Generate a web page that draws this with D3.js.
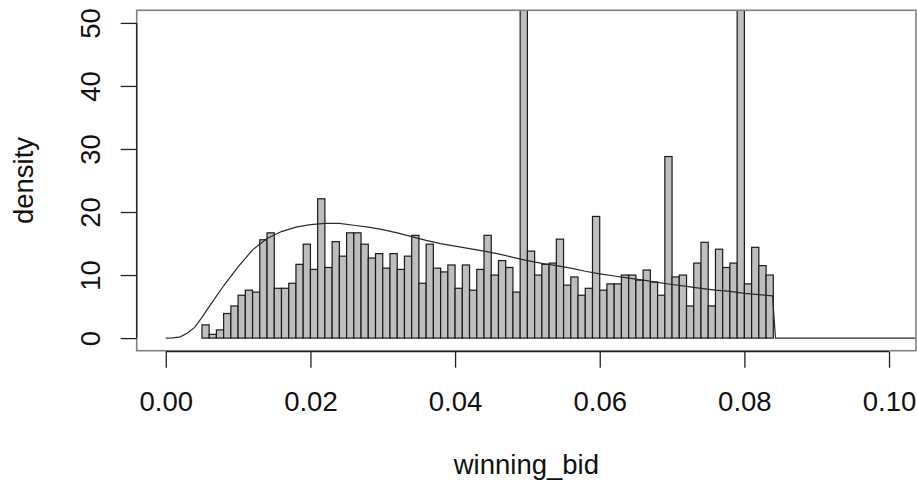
<!DOCTYPE html>
<html>
<head>
<meta charset="utf-8">
<script src="https://cdn.jsdelivr.net/npm/d3@7"></script>
<style>
  body { margin: 0; background: #fff; }
  text { font-family: "Liberation Sans", Arial, Helvetica, sans-serif; }
</style>
</head>
<body>
<div id="chart"></div>
<script>
// Histogram break points (bin edges)
var breaks = [0.005, 0.006, 0.007, 0.008, 0.009, 0.010, 0.011, 0.012, 0.013, 0.014,
  0.015, 0.016, 0.017, 0.018, 0.019, 0.020, 0.021, 0.022, 0.023, 0.024,
  0.025, 0.026, 0.027, 0.028, 0.029, 0.030, 0.031, 0.032, 0.033, 0.034,
  0.035, 0.036, 0.037, 0.038, 0.039, 0.040, 0.041, 0.042, 0.043, 0.044,
  0.045, 0.046, 0.047, 0.048, 0.049, 0.050, 0.051, 0.052, 0.053, 0.054,
  0.055, 0.056, 0.057, 0.058, 0.059, 0.060, 0.061, 0.062, 0.063, 0.064,
  0.065, 0.066, 0.067, 0.068, 0.069, 0.070, 0.071, 0.072, 0.073, 0.074,
  0.075, 0.076, 0.077, 0.078, 0.079, 0.080, 0.081, 0.082, 0.083, 0.084];

// Bar densities, one per bin
var barDensity = [2.1, 0.6, 1.3, 3.9, 5.1, 6.8, 7.6, 7.3, 15.6, 16.7,
  7.9, 7.9, 8.7, 11.7, 14.9, 10.9, 22.1, 11.2, 15.3, 13.0,
  16.7, 16.7, 14.9, 12.7, 13.4, 11.1, 13.4, 10.9, 13.0, 16.3,
  8.7, 14.9, 11.1, 10.5, 11.6, 7.9, 11.6, 7.6, 10.9, 16.3,
  10.0, 12.3, 11.2, 7.3, 80, 13.8, 10.0, 11.7, 11.9, 15.7,
  8.4, 9.7, 6.8, 7.9, 19.3, 7.6, 8.6, 8.6, 10.0, 10.0,
  9.2, 10.8, 8.9, 6.8, 28.8, 9.7, 10.0, 5.1, 11.9, 15.2,
  5.1, 14.1, 11.2, 11.9, 80, 8.6, 14.4, 11.5, 10.0];

// Fitted density curve
var curveX = [0, 0.001, 0.002, 0.003, 0.004, 0.005, 0.006, 0.008, 0.010, 0.012,
  0.014, 0.016, 0.018, 0.020, 0.022, 0.024, 0.026, 0.028, 0.030, 0.032,
  0.034, 0.036, 0.038, 0.040, 0.042, 0.044, 0.046, 0.048, 0.050, 0.052,
  0.054, 0.056, 0.058, 0.060, 0.062, 0.064, 0.066, 0.068, 0.070, 0.072,
  0.074, 0.076, 0.078, 0.080, 0.082, 0.0839, 0.0843, 0.095, 0.11];
var curveY = [0, 0.03, 0.2, 0.8, 1.7, 3.3, 5.0, 8.3, 11.3, 14.0,
  15.8, 16.9, 17.6, 18.0, 18.2, 18.2, 17.9, 17.6, 17.2, 16.7,
  16.1, 15.5, 15.0, 14.6, 14.2, 13.8, 13.35, 12.8, 12.3, 11.85,
  11.5, 11.1, 10.6, 10.2, 9.85, 9.5, 9.2, 8.85, 8.5, 8.2,
  7.9, 7.6, 7.4, 7.1, 6.9, 6.7, 0, 0, 0];

var xTicks = [0, 0.02, 0.04, 0.06, 0.08, 0.10];
var yTicks = [0, 10, 20, 30, 40, 50];

var svgWidth = 917;
var svgHeight = 485;
var plot = { left: 136.7, right: 916, top: 10.3, bottom: 350.7 };
var fontSize = 27.5;

var svg = d3.select("#chart")
  .append("svg")
  .attr("width", svgWidth)
  .attr("height", svgHeight);

var xScale = d3.scaleLinear()
  .domain([-0.00402, 0.10373])
  .range([plot.left, plot.right]);
var yScale = d3.scaleLinear()
  .domain([-2, 52])
  .range([plot.bottom, plot.top]);

svg.append("clipPath").attr("id", "clip")
  .append("rect")
  .attr("x", plot.left).attr("y", plot.top)
  .attr("width", plot.right - plot.left)
  .attr("height", plot.bottom - plot.top);

var inner = svg.append("g").attr("clip-path", "url(#clip)");

// bars
var bins = barDensity.map(function(d, i) {
  return { x0: breaks[i], x1: breaks[i + 1], y: d };
});
inner.selectAll("rect.bar")
  .data(bins)
  .enter()
  .append("rect")
  .attr("class", "bar")
  .attr("x", d => xScale(d.x0))
  .attr("width", d => xScale(d.x1) - xScale(d.x0))
  .attr("y", d => yScale(d.y))
  .attr("height", d => yScale(0) - yScale(d.y))
  .attr("fill", "#bebebe")
  .attr("stroke", "#1a1a1a")
  .attr("stroke-width", 1.2);

// density curve
var line = d3.line()
  .x((d, i) => xScale(curveX[i]))
  .y(d => yScale(d));
inner.append("path")
  .datum(curveY)
  .attr("d", line)
  .attr("fill", "none")
  .attr("stroke", "#2a2a2a")
  .attr("stroke-width", 1.2);

// box
svg.append("rect")
  .attr("x", plot.left).attr("y", plot.top)
  .attr("width", plot.right - plot.left)
  .attr("height", plot.bottom - plot.top)
  .attr("fill", "none")
  .attr("stroke", "#808080")
  .attr("stroke-width", 1.6);

// x axis
var xAxis = svg.append("g")
  .attr("transform", `translate(0, ${plot.bottom + 1})`)
  .call(d3.axisBottom(xScale).tickValues(xTicks).tickFormat(d3.format(".2f")).tickSize(16).tickSizeOuter(0));
xAxis.select(".domain").remove();
xAxis.append("line")
  .attr("x1", xScale(xTicks[0])).attr("x2", xScale(xTicks[xTicks.length - 1]))
  .attr("stroke", "#222").attr("stroke-width", 1.3);
xAxis.selectAll(".tick line").attr("stroke", "#222").attr("stroke-width", 1.3);
xAxis.selectAll("text")
  .attr("y", 59).attr("dy", 0)
  .attr("fill", "#111")
  .style("font-size", fontSize + "px")
  .style("font-family", '"Liberation Sans", Arial, sans-serif');

// y axis
var yAxis = svg.append("g")
  .attr("transform", `translate(${plot.left}, 0)`)
  .call(d3.axisLeft(yScale).tickValues(yTicks).tickSize(16).tickSizeOuter(0));
yAxis.select(".domain").remove();
yAxis.append("line")
  .attr("y1", yScale(yTicks[0])).attr("y2", yScale(yTicks[yTicks.length - 1]))
  .attr("stroke", "#222").attr("stroke-width", 1.3);
yAxis.selectAll(".tick line").attr("stroke", "#222").attr("stroke-width", 1.3);
yAxis.selectAll("text")
  .attr("x", 0).attr("dy", 0)
  .attr("transform", "translate(-37, 0) rotate(-90)")
  .attr("text-anchor", "middle")
  .attr("fill", "#111")
  .style("font-size", fontSize + "px")
  .style("font-family", '"Liberation Sans", Arial, sans-serif');

// axis titles
svg.append("text")
  .attr("x", (plot.left + plot.right) / 2)
  .attr("y", 474)
  .attr("text-anchor", "middle")
  .attr("fill", "#111")
  .style("font-size", fontSize + "px")
  .text("winning_bid");
svg.append("text")
  .attr("transform", `translate(32.5, ${(plot.top + plot.bottom) / 2}) rotate(-90)`)
  .attr("text-anchor", "middle")
  .attr("fill", "#111")
  .style("font-size", fontSize + "px")
  .text("density");
</script>
</body>
</html>
